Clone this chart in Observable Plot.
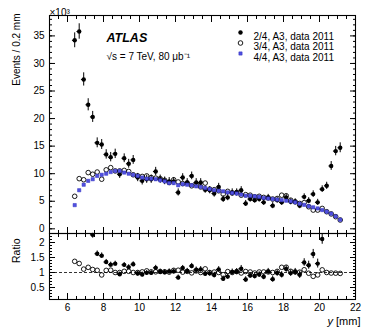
<!DOCTYPE html>
<html><head><meta charset="utf-8">
<script src="https://cdn.jsdelivr.net/npm/d3@7"></script>
<script src="https://cdn.jsdelivr.net/npm/@observablehq/plot@0.6"></script>
<style>
html,body{margin:0;padding:0;background:#fff;}
#chart{position:relative;width:366px;height:330px;overflow:hidden;}
#chart svg{position:absolute;left:0;overflow:visible;}
</style></head><body><div id="chart"></div>
<script>
// bin centres [mm]
const binCenters = [6.4, 6.65, 6.9, 7.15, 7.4, 7.65, 7.9, 8.15, 8.4, 8.65, 8.9, 9.15, 9.4, 9.65, 9.9,
  10.15, 10.4, 10.65, 10.9, 11.15, 11.4, 11.65, 11.9, 12.15, 12.4, 12.65, 12.9, 13.15, 13.4, 13.65,
  13.9, 14.15, 14.4, 14.65, 14.9, 15.15, 15.4, 15.65, 15.9, 16.15, 16.4, 16.65, 16.9, 17.15, 17.4,
  17.65, 17.9, 18.15, 18.4, 18.65, 18.9, 19.15, 19.4, 19.65, 19.9, 20.15, 20.4, 20.65, 20.9, 21.15];
const seriesNames = ["2/4, A3, data 2011", "3/4, A3, data 2011", "4/4, A3, data 2011"];
// events / 0.2 mm, in units of 10^3
const events24 = [34.2, 35.8, 27.1, 22.5, 20.3, 15.6, 15.3, 13.5, 13.0, 13.6, 9.9, 12.8, 11.8, 12.5, 9.3,
  8.7, 9.0, 9.0, 10.4, 9.0, 8.7, 8.6, 8.6, 6.6, 9.3, 8.4, 9.6, 8.4, 8.4, 7.1,
  7.0, 6.4, 7.6, 5.4, 5.7, 6.6, 6.6, 7.0, 4.6, 5.4, 5.2, 5.4, 4.8, 5.7, 4.2,
  5.2, 4.8, 5.7, 4.9, 4.9, 4.2, 5.8, 5.1, 6.3, 4.8, 7.2, 7.8, 11.4, 14.1, 14.7];
const err24 = [1.35, 1.4, 1.2, 1.1, 1.0, 0.9, 0.9, 0.85, 0.85, 0.85, 0.75, 0.8, 0.8, 0.8, 0.75,
  0.75, 0.75, 0.75, 0.75, 0.75, 0.7, 0.7, 0.7, 0.65, 0.7, 0.7, 0.7, 0.7, 0.7, 0.65,
  0.65, 0.65, 0.65, 0.6, 0.6, 0.65, 0.65, 0.65, 0.55, 0.55, 0.55, 0.55, 0.55, 0.55, 0.55,
  0.55, 0.55, 0.55, 0.55, 0.55, 0.55, 0.55, 0.55, 0.6, 0.55, 0.6, 0.65, 0.8, 0.85, 0.9];
const events34 = [5.9, 9.1, 8.9, 10.2, 9.9, 10.3, 9.0, 10.7, 11.1, 10.5, 10.5, 10.6, 10.4, 9.8, 9.6,
  9.5, 9.6, 9.3, 9.2, 9.1, 8.8, 8.4, 8.9, 8.5, 8.2, 8.3, 7.8, 8.1, 7.6, 8.3,
  7.2, 7.1, 6.9, 6.3, 6.8, 6.5, 6.6, 6.1, 6.2, 6.1, 5.8, 5.9, 5.7, 5.6, 5.4,
  5.5, 6.1, 6.0, 5.2, 4.9, 4.6, 4.75, 4.0, 3.4, 3.4, 3.7, 3.1, 2.7, 2.2, 1.6];
const events44 = [4.3, 7.0, 8.0, 8.7, 9.0, 9.6, 9.8, 10.0, 10.3, 10.5, 10.5, 10.2, 10.0, 9.8, 9.6,
  9.3, 9.1, 9.1, 9.0, 8.8, 8.6, 8.3, 8.3, 7.9, 8.1, 8.0, 7.9, 7.7, 7.6, 7.4,
  7.2, 7.0, 6.9, 6.8, 6.6, 6.5, 6.4, 6.2, 6.0, 6.0, 5.9, 5.8, 5.6, 5.5, 5.4,
  5.3, 5.2, 5.1, 5.0, 4.8, 4.55, 4.35, 4.1, 3.9, 3.7, 3.4, 3.1, 2.75, 2.25, 1.65];
const yTicksTop = [0, 5, 10, 15, 20, 25, 30, 35];
const xTicks = [6, 8, 10, 12, 14, 16, 18, 20, 22];
const yTicksRatio = [0.5, 1, 1.5, 2];

const FONT = '"Liberation Sans", Arial, Helvetica, sans-serif';
const yMinorTop = d3.range(0, 39, 1);
const xMinor = d3.range(5, 22.01, 0.5);
const yMinorRatio = d3.range(0.1, 2.31, 0.1);
const RMIN = 0.1, RMAX = 2.3;

const rows = binCenters.map((x, i) => ({x, a: events24[i], ea: err24[i], b: events34[i], c: events44[i]}));
const ratioRows = rows.map(r => ({x: r.x, ra: r.a / r.c, era: r.ea / r.c, rb: r.b / r.c}));
const ratioA = ratioRows.filter(r => r.ra <= RMAX && r.ra >= RMIN);
const ratioB = ratioRows.filter(r => r.rb <= RMAX && r.rb >= RMIN);

const blank = () => "";
function axY(anchor, major, minor, labels) {
  return [
    Plot.axisY({anchor, ticks: major, tickSize: -6, tickPadding: 11, label: null,
      tickFormat: labels ? (d => String(d)) : blank, fontSize: 10}),
    Plot.axisY({anchor, ticks: minor, tickSize: -3, tickFormat: blank, label: null})
  ];
}
function axX(anchor, major, minor, labels) {
  return [
    Plot.axisX({anchor, ticks: major, tickSize: -6, tickPadding: 10, label: null,
      tickFormat: labels ? (d => String(d)) : blank, fontSize: 10}),
    Plot.axisX({anchor, ticks: minor, tickSize: -3, tickFormat: blank, label: null})
  ];
}
const markerA = {r: 2.2, fill: "black"};
const markerB = {r: 2.3, fill: "none", stroke: "black", strokeWidth: 0.9};
const markerC = {symbol: "square", r: 1.85, fill: "#5050e0", stroke: "#3030c0", strokeWidth: 0.5};

const topPlot = Plot.plot({
  width: 366, height: 233,
  marginLeft: 49, marginRight: 11, marginTop: 15, marginBottom: 0,
  x: {domain: [5, 22]},
  y: {domain: [-0.85, 38.7]},
  style: {fontFamily: FONT, fontSize: "10px", background: "transparent", color: "black"},
  marks: [
    ...axY("left", yTicksTop, yMinorTop, true),
    ...axY("right", yTicksTop, yMinorTop, false),
    ...axX("top", xTicks, xMinor, false),
    ...axX("bottom", xTicks, xMinor, false),
    Plot.ruleX(rows, {x: "x", y1: d => d.a - d.ea, y2: d => d.a + d.ea, stroke: "black", strokeWidth: 1}),
    Plot.ruleY(rows, {y: "a", x1: d => d.x - 0.125, x2: d => d.x + 0.125, stroke: "black", strokeWidth: 1}),
    Plot.dot(rows, {x: "x", y: "a", ...markerA}),
    Plot.dot(rows, {x: "x", y: "b", ...markerB}),
    Plot.dot(rows, {x: "x", y: "c", ...markerC}),
    Plot.frame({stroke: "black", strokeWidth: 1.1}),
    Plot.text(["Events / 0.2 mm"], {frameAnchor: "top-left", dx: -37, dy: -2, rotate: -90, textAnchor: "end", fontSize: 10}),
    Plot.text(["×10³"], {frameAnchor: "top-left", dx: 0, dy: -7, textAnchor: "start", fontSize: 10}),
    Plot.text(["ATLAS"], {frameAnchor: "top-left", dx: 57, dy: 17.5, textAnchor: "start", fontSize: 12.5, fontWeight: "bold", fontStyle: "italic"}),
    Plot.text(["√s = 7 TeV, 80 μb⁻¹"], {frameAnchor: "top-left", dx: 57, dy: 37, textAnchor: "start", fontSize: 10}),
    Plot.dot([0], {frameAnchor: "top-left", dx: 191, dy: 17, ...markerA}),
    Plot.dot([0], {frameAnchor: "top-left", dx: 191, dy: 27.5, ...markerB}),
    Plot.dot([0], {frameAnchor: "top-left", dx: 191, dy: 38, ...markerC}),
    ...seriesNames.map((name, k) => Plot.text([name], {frameAnchor: "top-left", dx: 204, dy: 17 + 10.5 * k, textAnchor: "start", fontSize: 10}))
  ]
});
topPlot.style.top = "0px";

const ratioPlot = Plot.plot({
  width: 366, height: 97,
  marginLeft: 49, marginRight: 11, marginTop: 0, marginBottom: 31,
  x: {domain: [5, 22]},
  y: {domain: [RMIN, RMAX]},
  style: {fontFamily: FONT, fontSize: "10px", background: "transparent", color: "black"},
  marks: [
    ...axY("left", yTicksRatio, yMinorRatio, true),
    ...axY("right", yTicksRatio, yMinorRatio, false),
    ...axX("top", xTicks, xMinor, false),
    ...axX("bottom", xTicks, xMinor, true),
    Plot.ruleY([1], {stroke: "black", strokeWidth: 0.8, strokeDasharray: "3,2"}),
    Plot.ruleX(ratioA, {x: "x", y1: d => Math.max(RMIN, d.ra - d.era), y2: d => Math.min(RMAX, d.ra + d.era), stroke: "black", strokeWidth: 1}),
    Plot.ruleY(ratioA, {y: "ra", x1: d => d.x - 0.125, x2: d => d.x + 0.125, stroke: "black", strokeWidth: 1}),
    Plot.dot(ratioA, {x: "x", y: "ra", ...markerA}),
    Plot.dot(ratioB, {x: "x", y: "rb", ...markerB}),
    Plot.frame({stroke: "black", strokeWidth: 1.1}),
    Plot.text(["Ratio"], {frameAnchor: "top-left", dx: -37, dy: 5, rotate: -90, textAnchor: "end", fontSize: 10.5}),
    Plot.text(["[mm]"], {frameAnchor: "bottom-right", dx: 5, dy: 25, textAnchor: "end", fontSize: 11}),
    Plot.text(["y"], {frameAnchor: "bottom-right", dx: -22.5, dy: 25, textAnchor: "end", fontSize: 11, fontStyle: "italic"})
  ]
});
ratioPlot.style.top = "233px";

const chart = document.getElementById("chart");
chart.appendChild(topPlot);
chart.appendChild(ratioPlot);
</script>
</body></html>
